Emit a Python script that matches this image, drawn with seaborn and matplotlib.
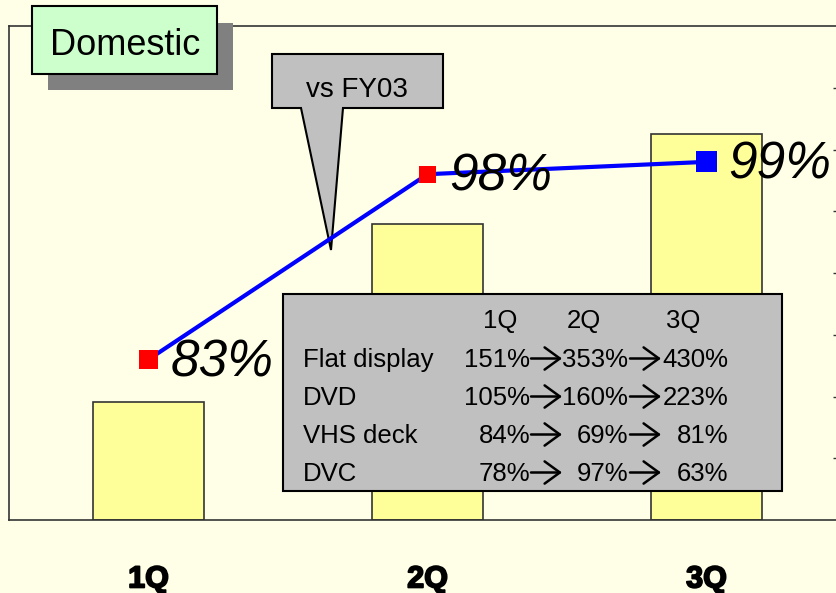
import numpy as np
import pandas as pd
import matplotlib
matplotlib.use("Agg")
import matplotlib.pyplot as plt
import matplotlib.patheffects as pe
from matplotlib.patches import Rectangle, Polygon, FancyArrowPatch
import seaborn as sns

# chart data
quarters = ["1Q", "2Q", "3Q"]
sales_level = [1.91, 4.79, 6.25]      # bar heights (unlabelled left scale)
vs_fy03 = [83, 98, 99]                # % vs FY03, line

# table in the grey box
table_quarters = ["1Q", "2Q", "3Q"]
table_products = ["Flat display", "DVD", "VHS deck", "DVC"]
flat_display = [151, 353, 430]
dvd = [105, 160, 223]
vhs_deck = [84, 69, 81]
dvc = [78, 97, 63]
table_values = [flat_display, dvd, vhs_deck, dvc]

W, H = 836, 593
BG = "#FFFFE8"

sns.set_style("white")
plt.rcParams["font.family"] = ["Liberation Sans", "DejaVu Sans"]
plt.rcParams["text.color"] = "black"
plt.rcParams["xtick.color"] = "black"
plt.rcParams["ytick.color"] = "black"


def px(x, y):
    # pixel position (from top-left) -> figure fraction
    return x / W, 1 - y / H


fig = plt.figure(figsize=(W / 100, H / 100), dpi=100)
fig.patch.set_facecolor(BG)
ax = fig.add_axes([9 / W, 73 / H, 837 / W, 494 / H])
ax.set_facecolor(BG)

df = pd.DataFrame({"quarter": quarters, "sales": sales_level})
sns.barplot(data=df, x="quarter", y="sales", ax=ax, width=0.4, color="#FFFF99",
            saturation=1, edgecolor="#333333", linewidth=1.2)
ax.set_xlim(-0.5, 2.5)
ax.set_ylim(0, 8)
ax.set_yticks([])
ax.set_ylabel("")
ax.set_xlabel("")
ax.set_xticks(range(len(quarters)))
ax.set_xticklabels(quarters, fontsize=22, fontweight="bold", color="black",
                   path_effects=[pe.withStroke(linewidth=1.3, foreground="black")])
ax.set_xticks([0.5, 1.5], minor=True)
ax.tick_params(axis="x", which="major", length=0, pad=32)
ax.tick_params(axis="x", which="minor", direction="in", length=8.6, width=1.0, color="#333333")
for s in ["top", "left", "bottom", "right"]:
    ax.spines[s].set_color("#333333")
    ax.spines[s].set_linewidth(1.2)

# callout "vs FY03" (under the line)
callout = Polygon([px(272, 54), px(443, 54), px(443, 108), px(343, 108),
                   px(331, 250), px(301, 108), px(272, 108)], closed=True,
                  transform=fig.transFigure, facecolor="#C0C0C0", edgecolor="black",
                  linewidth=1.5, clip_on=False, zorder=1)
ax.add_artist(callout)
ax.text(*px(357, 97), "vs FY03", transform=fig.transFigure, ha="center", va="baseline",
        fontsize=20, color="black", zorder=2)

# line on a second scale
ax2 = ax.twinx()
xs = np.arange(len(quarters))
sns.lineplot(x=xs, y=vs_fy03, ax=ax2, color="blue", linewidth=3, zorder=3)
ax2.scatter(xs, vs_fy03, marker="s", s=[200, 150, 230], c=["red", "red", "blue"],
            linewidths=0, zorder=4)
ax2.set_ylim(70, 110)
ax2.set_yticks(range(75, 110, 5))
ax2.tick_params(axis="y", direction="in", length=9.4, width=1.0, color="#333333",
                labelright=False)
for s in ["top", "left", "bottom"]:
    ax2.spines[s].set_visible(False)
ax2.spines["right"].set_color("#333333")
for x, v in zip(xs, vs_fy03):
    ax2.annotate(f"{v}%", (x, v), xytext=(16, -12), textcoords="offset points",
                 ha="left", va="baseline", fontsize=37, style="italic",
                 color="black", zorder=5)

# "Domestic" label with shadow
fig.add_artist(Rectangle(px(48, 90), 185 / W, 67 / H, transform=fig.transFigure,
                         facecolor="#808080", edgecolor="none", zorder=2))
fig.add_artist(Rectangle(px(32, 74), 185 / W, 68 / H, transform=fig.transFigure,
                         facecolor="#CCFFCC", edgecolor="black", linewidth=1.5, zorder=3))
fig.text(*px(125, 55), "Domestic", ha="center", va="baseline", fontsize=26,
         color="black", zorder=4)

# table box
fig.add_artist(Rectangle(px(283, 491), 499 / W, 197 / H, transform=fig.transFigure,
                         facecolor="#C0C0C0", edgecolor="black", linewidth=1.5, zorder=2))
for q, cx in zip(table_quarters, [500, 584, 683]):
    fig.text(*px(cx, 328), q, ha="center", va="baseline", fontsize=18.5,
             color="black", zorder=4)
row_base = [367, 405, 443, 481]
for name, vals, yb in zip(table_products, table_values, row_base):
    fig.text(*px(303, yb), name, ha="left", va="baseline", fontsize=18.5,
             color="black", zorder=4)
    for v, rx in zip(vals, [530, 628, 728]):
        fig.text(*px(rx, yb), f"{v}%", ha="right", va="baseline", fontsize=18.5,
                 color="black", zorder=4)
    for x0, x1 in [(531, 562), (630, 661)]:
        fig.add_artist(FancyArrowPatch(px(x0, yb - 8.5), px(x1, yb - 8.5),
                                       transform=fig.transFigure,
                                       arrowstyle="->,head_length=0.55,head_width=0.4",
                                       mutation_scale=20, linewidth=1.8, color="black",
                                       shrinkA=0, shrinkB=0, zorder=4))

fig.savefig("out.png", dpi=100, facecolor=BG)
